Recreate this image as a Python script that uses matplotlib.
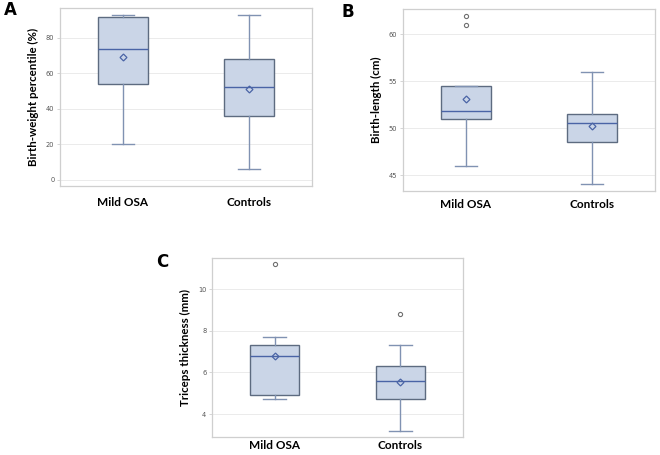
import numpy as np
import matplotlib
matplotlib.use("Agg")
import matplotlib.pyplot as plt

groups = ["Mild OSA", "Controls"]

# Panel A - Birth-weight percentile (%)
bw_low = [20, 6]
bw_q1 = [54, 36]
bw_med = [74, 52.5]
bw_q3 = [92, 68]
bw_high = [93, 93]
bw_mean = [69.5, 51]
bw_fliers = [[], []]

# Panel B - Birth-length (cm)
bl_low = [46, 44]
bl_q1 = [51, 48.5]
bl_med = [51.8, 50.5]
bl_q3 = [54.5, 51.5]
bl_high = [54.5, 56]
bl_mean = [53.1, 50.2]
bl_fliers = [[61, 62], []]

# Panel C - Triceps thickness (mm)
tt_low = [4.7, 3.2]
tt_q1 = [4.9, 4.7]
tt_med = [6.8, 5.6]
tt_q3 = [7.3, 6.3]
tt_high = [7.7, 7.3]
tt_mean = [6.78, 5.55]
tt_fliers = [[11.2], [8.8]]

BOX_FILL = "#cad5e7"
BOX_EDGE = "#5d6b80"
MED_COL = "#4a64a6"
WHISK_COL = "#8092b2"
GRID_COL = "#ebebeb"
SPINE_COL = "#cfcfcf"


def make_stats(low, q1, med, q3, high, mean, fliers):
    stats = []
    for i in range(len(groups)):
        stats.append(dict(whislo=low[i], q1=q1[i], med=med[i], q3=q3[i],
                          whishi=high[i], mean=mean[i],
                          fliers=np.array(fliers[i]), label=groups[i]))
    return stats


def draw_panel(ax, stats, ylabel, ylim, yticks, xpad):
    ax.bxp(stats, positions=[1, 2], widths=0.39, capwidths=0.18,
           showmeans=True, patch_artist=True,
           boxprops=dict(facecolor=BOX_FILL, edgecolor=BOX_EDGE, linewidth=1.0),
           medianprops=dict(color=MED_COL, linewidth=1.0),
           whiskerprops=dict(color=WHISK_COL, linewidth=1.0),
           capprops=dict(color=WHISK_COL, linewidth=1.0),
           meanprops=dict(marker="D", markerfacecolor="none",
                          markeredgecolor=MED_COL, markersize=3.5,
                          markeredgewidth=0.9),
           flierprops=dict(marker="o", markerfacecolor="none",
                           markeredgecolor="#707070", markersize=3,
                           markeredgewidth=0.8))
    ax.set_xlim(0.5, 2.5)
    ax.set_ylim(*ylim)
    ax.set_yticks(yticks)
    ax.set_yticklabels([str(t) for t in yticks])
    ax.yaxis.grid(True, color=GRID_COL, linewidth=0.7)
    ax.set_axisbelow(True)
    for s in ax.spines.values():
        s.set_color(SPINE_COL)
        s.set_linewidth(0.9)
    ax.tick_params(axis="y", labelsize=4.8, colors=SPINE_COL, labelcolor="#555555",
                   length=2, width=0.6, pad=2)
    ax.tick_params(axis="x", length=0, pad=xpad)
    ax.set_xticks([1, 2])
    ax.set_xticklabels(groups, fontsize=8.5, fontweight="bold", family="Lato")
    ax.set_ylabel(ylabel, fontsize=8.3, fontweight="bold", family="Lato", labelpad=5)


fig = plt.figure(figsize=(6.6, 4.55), dpi=100)

axA = fig.add_axes([0.0909, 0.5912, 0.3818, 0.3912])
draw_panel(axA, make_stats(bw_low, bw_q1, bw_med, bw_q3, bw_high, bw_mean, bw_fliers),
           "Birth-weight percentile (%)", (-3.4, 96.8), [0, 20, 40, 60, 80], 8)

axB = fig.add_axes([0.6106, 0.5802, 0.3818, 0.4])
draw_panel(axB, make_stats(bl_low, bl_q1, bl_med, bl_q3, bl_high, bl_mean, bl_fliers),
           "Birth-length (cm)", (43.3, 62.7), [45, 50, 55, 60], 6)

axC = fig.add_axes([0.3212, 0.0396, 0.3803, 0.3934])
draw_panel(axC, make_stats(tt_low, tt_q1, tt_med, tt_q3, tt_high, tt_mean, tt_fliers),
           "Triceps thickness (mm)", (2.9, 11.49), [4, 6, 8, 10], 2)

fig.text(10 / 660, 1 - 10 / 455, "A", fontsize=12, fontweight="bold", ha="center", va="center")
fig.text(348 / 660, 1 - 12 / 455, "B", fontsize=12, fontweight="bold", ha="center", va="center")
fig.text(162 / 660, 1 - 262 / 455, "C", fontsize=12, fontweight="bold", ha="center", va="center")

fig.savefig("out.png", dpi=100, facecolor="white")
